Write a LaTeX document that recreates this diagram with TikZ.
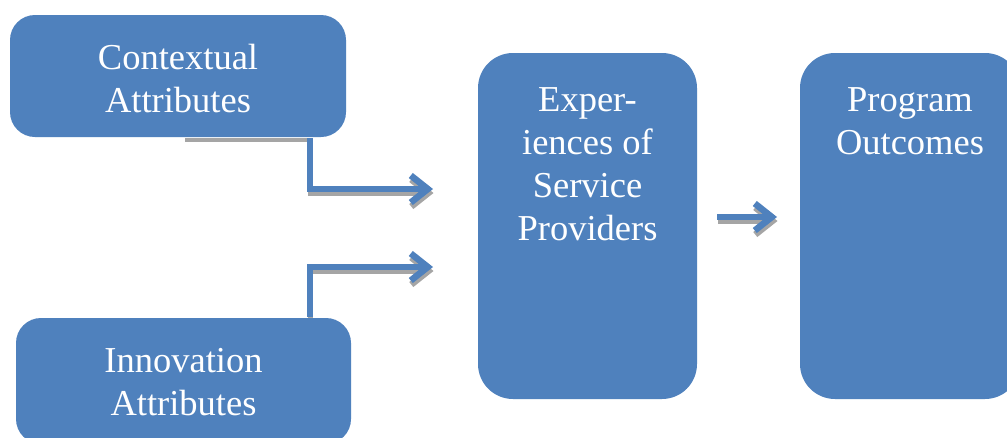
\documentclass[tikz,border=0pt]{standalone}
\usepackage{fontspec}
\setmainfont{Liberation Serif}
\usetikzlibrary{arrows.meta}
\definecolor{boxblue}{RGB}{79,129,189}
\definecolor{shadowgray}{RGB}{165,165,165}
\tikzset{
  box/.style={draw=none, fill=boxblue, rectangle, inner sep=0pt, outer sep=0pt},
  boxtext/.style={text=white, align=center, inner sep=0pt,
    font=\fontsize{36.5}{43}\selectfont},
  tipstyle/.style={-{Straight Barb[length=17pt,width=27pt,line width=6.5pt]}},
  conn/.style={draw=boxblue, line width=5.5pt, tipstyle},
  shade/.style={draw=shadowgray, line width=5.5pt, tipstyle,
    transform canvas={xshift=0.5pt,yshift=-4pt}},
}
\begin{document}
\begin{tikzpicture}[x=1pt,y=-1pt]
\useasboundingbox (0,0) rectangle (1007,437);
\clip (0,0) rectangle (1007,437);
\fill[white] (0,0) rectangle (1007,437);
% free ends
\coordinate (e1) at (433,189);
\coordinate (e2) at (433,267);
\coordinate (s3) at (717,217);
\coordinate (e3) at (777,217);
% boxes
\node[box, rounded corners=25pt, minimum width=336pt, minimum height=122pt] (ctx) at (178,76) {};
\node[box, rounded corners=25pt, minimum width=335pt, minimum height=126pt] (inn) at (183.5,381) {};
\node[box, rounded corners=35pt, minimum width=219pt, minimum height=346pt] (exp) at (587.5,226) {};
\node[box, rounded corners=35pt, minimum width=220pt, minimum height=346pt] (out) at (910,226) {};
% shadows
\fill[shadowgray] (185,138) rectangle (307,141.5);
\draw[shade] ([xshift=132pt,yshift=-1pt]ctx.south) |- (e1);
\draw[shade] ([xshift=126.5pt,yshift=4pt]inn.north) |- (e2);
\draw[shade] (s3) -- (e3);
% texts
\node[boxtext] (ctxt) at (178,79) {Contextual\\Attributes};
\node[boxtext] (innt) at (183.5,382.5) {Innovation\\Attributes};
\node[boxtext, anchor=north] (expt) at (587.5,81.5) {\strut Exper-\\iences of\\Service\\Providers};
\node[boxtext, anchor=north] (outt) at (910,81) {\strut Program\\Outcomes};
% connectors
\draw[conn] ([xshift=132pt,yshift=-1pt]ctx.south) |- (e1);
\draw[conn] ([xshift=126.5pt,yshift=1pt]inn.north) |- (e2);
\draw[conn] (s3) -- (e3);
\end{tikzpicture}
\end{document}
